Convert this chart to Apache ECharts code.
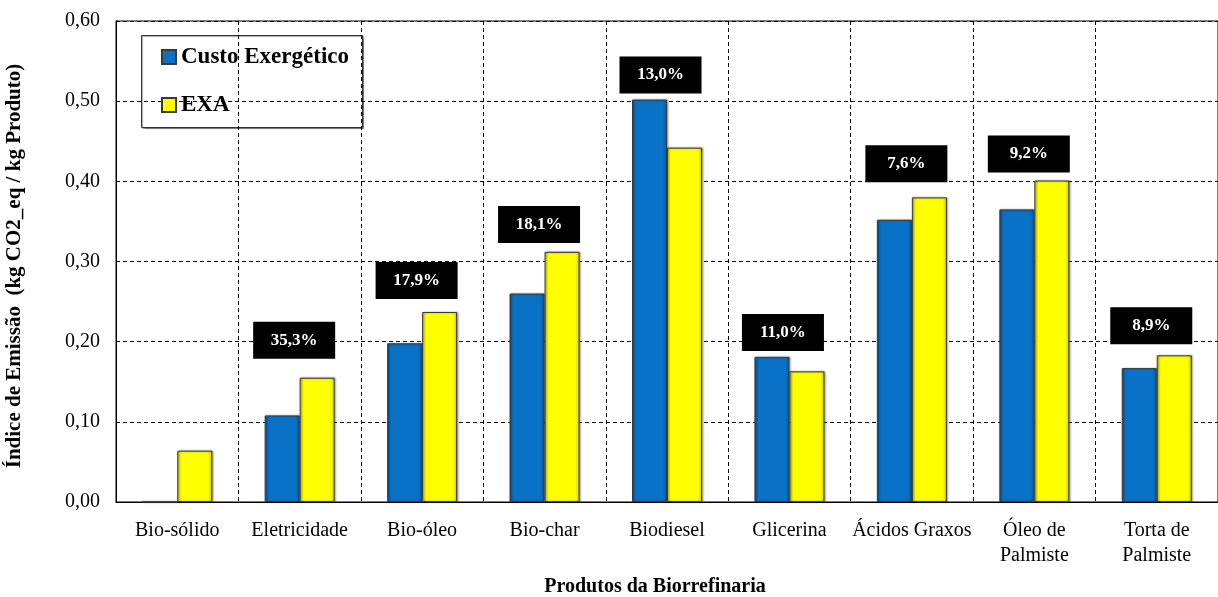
<!DOCTYPE html>
<html>
<head>
<meta charset="utf-8">
<script src="https://cdn.jsdelivr.net/npm/echarts@6/dist/echarts.min.js"></script>
<style>
  html, body { margin: 0; padding: 0; background: #fff; }
  #chart { width: 1218px; height: 597px; }
</style>
</head>
<body>
<div id="chart"></div>
<script>
// Emission index per biorefinery product, two allocation methods
const categories = ['Bio-sólido', 'Eletricidade', 'Bio-óleo', 'Bio-char', 'Biodiesel',
  'Glicerina', 'Ácidos Graxos', 'Óleo de\nPalmiste', 'Torta de\nPalmiste'];
const custoExergetico = [0.000, 0.108, 0.198, 0.260, 0.502, 0.181, 0.352, 0.365, 0.167];
const exa = [0.064, 0.155, 0.237, 0.312, 0.442, 0.163, 0.380, 0.401, 0.183];
// relative difference between the two methods, shown above each pair
const diffLabels = ['', '35,3%', '17,9%', '18,1%', '13,0%', '11,0%', '7,6%', '9,2%', '8,9%'];
const yTicks = [0, 0.1, 0.2, 0.3, 0.4, 0.5, 0.6];

// gap in px between each difference box and the taller bar of its pair
const labelGap = [0, 19, 13, 9, 6, 6, 15, 8, 11];

const serif = 'Liberation Serif';

function barFill(edge, mid) {
  return {
    type: 'linear', x: 0, y: 0, x2: 1, y2: 0,
    colorStops: [
      { offset: 0, color: edge }, { offset: 0.12, color: mid },
      { offset: 0.88, color: mid }, { offset: 1, color: edge }
    ]
  };
}

function diffLabel(i, dx) {
  return {
    show: diffLabels[i] !== '',
    position: 'top',
    distance: labelGap[i],
    offset: [dx, 0],
    formatter: diffLabels[i],
    backgroundColor: '#000',
    color: '#fff',
    fontFamily: serif,
    fontWeight: 'bold',
    fontSize: 17,
    lineHeight: 17,
    width: 82,
    padding: [10, 0, 10, 0],
    align: 'center'
  };
}

const blueData = custoExergetico.map((v, i) => ({
  value: v,
  label: v >= exa[i] ? diffLabel(i, 11) : { show: false }
}));
const yellowData = exa.map((v, i) => ({
  value: v,
  label: v > custoExergetico[i] ? diffLabel(i, -23) : { show: false }
}));

const chart = echarts.init(document.getElementById('chart'), null, { renderer: 'canvas' });
chart.setOption({
  animation: false,
  backgroundColor: '#fff',
  grid: {
    left: 116, top: 21, width: 1112, height: 481,
    show: true, borderColor: '#000', borderWidth: 1, backgroundColor: 'transparent'
  },
  legend: {
    orient: 'vertical',
    left: 156, top: 40,
    icon: 'rect',
    itemWidth: 14, itemHeight: 14,
    itemGap: 24,
    data: ['Custo Exergético', 'EXA'],
    textStyle: { fontFamily: serif, fontWeight: 'bold', fontSize: 23, lineHeight: 24, color: '#000' }
  },
  graphic: [
    {
      type: 'rect', z: -1, left: 141, top: 35,
      shape: { width: 221, height: 92 },
      style: { fill: '#fff', stroke: '#333', lineWidth: 1, shadowColor: 'rgba(0,0,0,0.35)', shadowOffsetX: 1, shadowOffsetY: 1, shadowBlur: 1 }
    },
    {
      type: 'text', x: 15, y: 266, rotation: Math.PI / 2,
      style: {
        text: 'Índice de Emissão  (kg CO2_eq / kg Produto)',
        fontFamily: serif, fontWeight: 'bold', fontSize: 21, fill: '#000',
        align: 'center', verticalAlign: 'middle'
      }
    },
    {
      type: 'text', x: 655, y: 587,
      style: {
        text: 'Produtos da Biorrefinaria',
        fontFamily: serif, fontWeight: 'bold', fontSize: 20, fill: '#000',
        align: 'center', verticalAlign: 'middle'
      }
    }
  ],
  xAxis: {
    type: 'category',
    data: categories,
    axisLine: { show: true, lineStyle: { color: '#000', width: 1 } },
    axisTick: { show: false },
    axisLabel: {
      interval: 0, margin: 16, color: '#000', fontFamily: serif, fontSize: 20, lineHeight: 25,
      verticalAlign: 'top'
    },
    splitLine: { show: true, interval: 0, lineStyle: { color: '#000', type: [4, 3], width: 1 } }
  },
  yAxis: {
    type: 'value',
    min: yTicks[0], max: yTicks[yTicks.length - 1], interval: 0.1,
    axisLine: { show: true, lineStyle: { color: '#000', width: 1 } },
    axisTick: { show: false },
    axisLabel: {
      margin: 16, color: '#000', fontFamily: serif, fontSize: 20,
      formatter: v => v.toFixed(2).replace('.', ',')
    },
    splitLine: { show: true, lineStyle: { color: '#000', type: [4, 3], width: 1 } }
  },
  series: [
    {
      name: 'Custo Exergético', type: 'bar', barWidth: 35, barGap: '0%',
      data: blueData,
      itemStyle: {
        color: barFill('#0558a0', '#0a72c6'),
        borderColor: '#3a3a3a', borderWidth: 1,
        shadowColor: 'rgba(0,0,0,0.35)', shadowOffsetX: 1, shadowOffsetY: 0, shadowBlur: 2
      }
    },
    {
      name: 'EXA', type: 'bar', barWidth: 35, barGap: '0%',
      data: yellowData,
      itemStyle: {
        color: barFill('#d0d000', '#ffff00'),
        borderColor: '#3a3a3a', borderWidth: 1,
        shadowColor: 'rgba(0,0,0,0.35)', shadowOffsetX: 1, shadowOffsetY: 0, shadowBlur: 2
      }
    }
  ]
});
</script>
</body>
</html>
